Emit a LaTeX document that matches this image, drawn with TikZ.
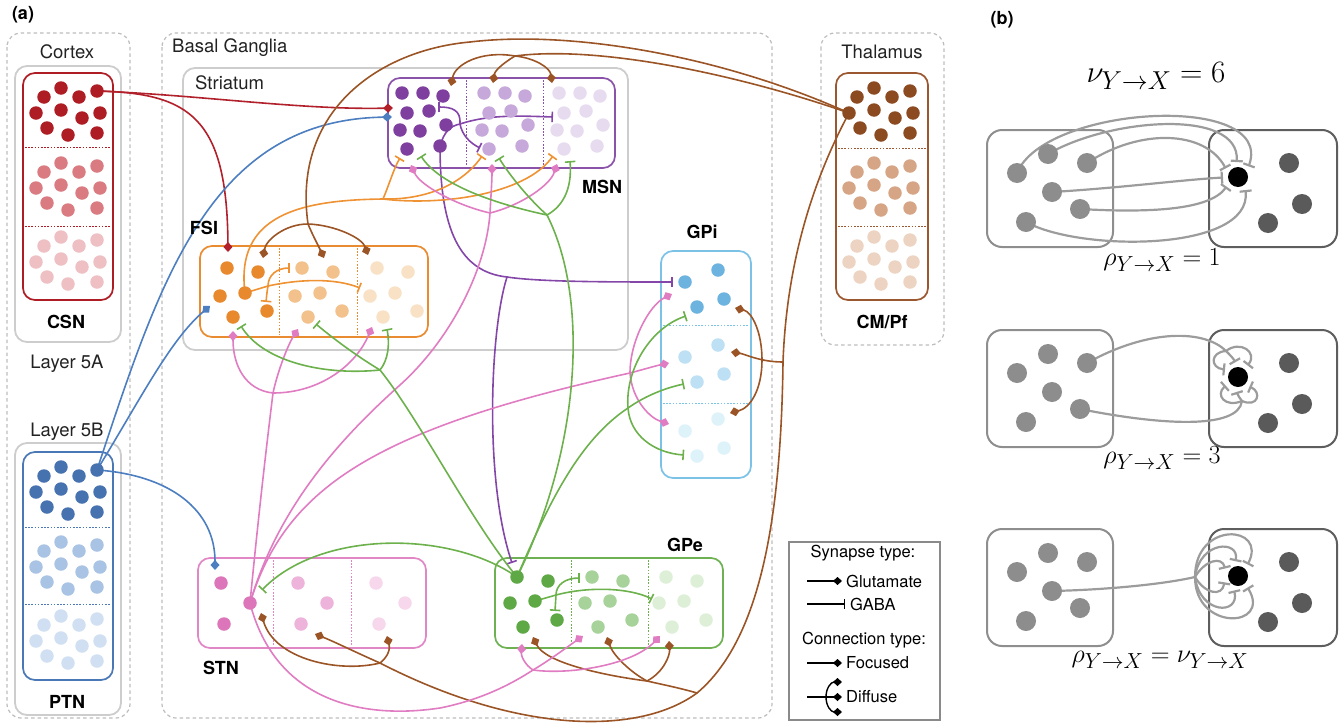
\documentclass[tikz,border=0pt]{standalone}
\usepackage{graphicx}
\usepackage{fontspec}
\setmainfont{TeX Gyre Heros}
\usetikzlibrary{arrows.meta}
\pgfdeclarelayer{bg}
\pgfdeclarelayer{wires}
\pgfsetlayers{bg,wires,main}
\definecolor{kCS1}{HTML}{AE1C24}\definecolor{kCS2}{HTML}{D97B80}\definecolor{kCS3}{HTML}{EEC0C3}
\definecolor{kPT1}{HTML}{4672B0}\definecolor{kPT2}{HTML}{A9C3E4}\definecolor{kPT3}{HTML}{D0DFF1}
\definecolor{kTH1}{HTML}{8B4A20}\definecolor{kTH2}{HTML}{D6A585}\definecolor{kTH3}{HTML}{EDD4C2}
\definecolor{kMS1}{HTML}{7F3F9F}\definecolor{kMS2}{HTML}{C6A9DA}\definecolor{kMS3}{HTML}{E7DBF0}
\definecolor{kFS1}{HTML}{E8892E}\definecolor{kFS2}{HTML}{F2C18C}\definecolor{kFS3}{HTML}{F8E1C5}
\definecolor{kGI1}{HTML}{6CB3DF}\definecolor{kGI2}{HTML}{BEE0F5}\definecolor{kGI3}{HTML}{DEF2F9}
\definecolor{kSN1}{HTML}{DD75BA}\definecolor{kSN2}{HTML}{EDB3DA}\definecolor{kSN3}{HTML}{F6D7EC}
\definecolor{kGE1}{HTML}{5EA845}\definecolor{kGE2}{HTML}{A7D29A}\definecolor{kGE3}{HTML}{DDEFD7}
\definecolor{bCS}{HTML}{AE1C24}\definecolor{bPT}{HTML}{4A77B5}\definecolor{bTH}{HTML}{9A5730}
\definecolor{bMS}{HTML}{8B52AA}\definecolor{bFS}{HTML}{E98B30}\definecolor{bGI}{HTML}{7CC2E6}
\definecolor{bSN}{HTML}{E187C6}\definecolor{bGE}{HTML}{6DB152}
\definecolor{kRed}{HTML}{B1202B}\definecolor{kBlu}{HTML}{4C7EC0}\definecolor{kPur}{HTML}{8446A8}
\definecolor{kOra}{HTML}{EE9233}\definecolor{kBro}{HTML}{9B5425}\definecolor{kPin}{HTML}{E07DC2}
\definecolor{kGre}{HTML}{6CB14C}
\definecolor{kGrp}{HTML}{CDCDCD}\definecolor{kDash}{HTML}{BDBDBD}\definecolor{kTxt}{HTML}{222222}
\definecolor{kLeg}{HTML}{8A8A8A}
\definecolor{kYB}{HTML}{8E8E8E}\definecolor{kXB}{HTML}{5E5E5E}\definecolor{kBL}{HTML}{8D8D8D}
\definecolor{kBR}{HTML}{5A5A5A}\definecolor{kBW}{HTML}{9C9C9C}
\begin{document}
\begin{tikzpicture}[x=1pt,y=-1pt,
  dot/.style={circle,draw=none,inner sep=0pt,minimum size=13.5pt},
  bdot/.style={circle,draw=none,inner sep=0pt,minimum size=20pt},
  regbox/.style={line width=1.7pt,rounded corners=12pt},
  grpbox/.style={line width=1.8pt,rounded corners=12pt,draw=kGrp},
  dashbox/.style={line width=1.2pt,rounded corners=14pt,draw=kDash,dash pattern=on 3.5pt off 3pt},
  divline/.style={line width=0.9pt,dash pattern=on 1.6pt off 1.6pt},
  wire/.style={line width=1.6pt,line cap=round},
  glu/.style={-{Diamond[length=10pt,width=9pt]}},
  gaba/.style={-{Bar[width=10.5pt,line width=1.6pt]}},
  lab/.style={font=\fontsize{18.5}{22}\selectfont,text=kTxt,inner sep=0pt},
  blab/.style={font=\fontsize{18}{22}\selectfont\bfseries,inner sep=0pt},
  leg/.style={font=\fontsize{16.5}{20}\selectfont,inner sep=0pt,anchor=west},
  bwire/.style={line width=2.2pt,draw=kBW,line cap=round},
  btee/.style={-{Bar[width=12pt,line width=2.2pt]}},
  ybox/.style={line width=2pt,draw=kYB,rounded corners=15pt},
  xbox/.style={line width=2pt,draw=kXB,rounded corners=15pt},
  legtip/.style={line width=1.4pt,black,-{Diamond[length=9pt,width=8pt]}},
  mth/.style={inner sep=0pt,font=\fontsize{24.88}{30}\selectfont},
  ]
\useasboundingbox (0,0) rectangle (1341,723);

% ---------------- dots ----------------
\foreach \pre/\dx/\dy/\c in {cs1/0/0/kCS1,cs2/0/75/kCS2,cs3/0/149/kCS3,pt1/0/379/kPT1,pt2/0/454/kPT2,pt3/0/528/kPT3,th1/813/0/kTH1,th2/813/75/kTH2,th3/813/149/kTH3}{
  \foreach \x/\y [count=\i] in {44/97,61/88,79/97,97/91,36/113,61/110,82/118,100/113,47/128,68/135,97/133}{
    \node[dot,fill=\c] (\pre-\i) at (\x+\dx,\y+\dy) {};
  }
}
\foreach \pre/\dx/\c in {ms1/0/kMS1,ms2/82/kMS2,ms3/157/kMS3}{
  \foreach \x/\y [count=\i] in {402/93,423/93,443/96,407/113,429/111,400/130,420/131,446/125,407/149,440/146}{
    \node[dot,fill=\c] (\pre-\i) at (\x+\dx,\y) {};
  }
}
\foreach \pre/\dx/\c in {fs1/0/kFS1,fs2/75/kFS2,fs3/150/kFS3}{
  \foreach \x/\y [count=\i] in {227/268,258/272,220/296,245/293,233/317,267/311}{
    \node[dot,fill=\c] (\pre-\i) at (\x+\dx,\y) {};
  }
}
\foreach \pre/\dy/\c in {gi1/0/kGI1,gi2/75/kGI2,gi3/149/kGI3}{
  \foreach \x/\y [count=\i] in {685/282,718/270,697/307,724/299}{
    \node[dot,fill=\c] (\pre-\i) at (\x,\y+\dy) {};
  }
}
\foreach \pre/\dx/\c in {sn1/0/kSN1,sn2/77/kSN2,sn3/155/kSN3}{
  \foreach \x/\y [count=\i] in {221/583,250/603,224/624}{
    \node[dot,fill=\c] (\pre-\i) at (\x+\dx,\y) {};
  }
}
\foreach \pre/\dx/\c in {ge1/0/kGE1,ge2/75/kGE2,ge3/149/kGE3}{
  \foreach \x/\y [count=\i] in {517/577,548/581,510/603,535/601,523/627,557/620}{
    \node[dot,fill=\c] (\pre-\i) at (\x+\dx,\y) {};
  }
}
% panel b dots
\foreach \k/\dy in {1/0,2/200,3/399}{
  \foreach \n/\x/\y in {a/1017/173,b/1048/154,c/1087/163,d/1052/192,e/1080/209,f/1026/222}{
    \node[bdot,fill=kBL] (bL\k\n) at (\x,\y+\dy) {};
  }
  \node[bdot,fill=black] (bN\k) at (1238,177+\dy) {};
  \foreach \n/\x/\y in {a/1289/163,b/1302/204,c/1268/223}{
    \node[bdot,fill=kBR] (bR\k\n) at (\x,\y+\dy) {};
  }
}

% ---------------- labels ----------------
\node[blab] (la) at (23,15) {(a)};
\node[blab] (lb) at (1002,20) {(b)};
\node[lab] (lCortex) at (67,52) {Cortex};
\node[blab] (lCSN) at (66,322) {CSN};
\node[lab] (l5A) at (67,364) {Layer 5A};
\node[lab] (l5B) at (67,432) {Layer 5B};
\node[blab] (lPTN) at (67,702) {PTN};
\node[lab,anchor=west] (lBG) at (172,48) {Basal Ganglia};
\node[lab,anchor=west] (lStr) at (195,83) {Striatum};
\node[blab] (lMSN) at (602,187) {MSN};
\node[blab] (lFSI) at (204,228) {FSI};
\node[blab] (lGPi) at (702,232) {GPi};
\node[blab] (lGPe) at (685,545) {GPe};
\node[blab] (lSTN) at (221,668) {STN};
\node[lab] (lThal) at (882,52) {Thalamus};
\node[blab] (lCM) at (882,322) {CM/Pf};

% legend
\node[leg,anchor=center] (lgSyn) at (863,553) {Synapse type:};
\coordinate (lgA0) at (807,581); \coordinate (lgA1) at (842,581);
\node[leg] (lgGlu) at (846,581) {Glutamate};
\coordinate (lgB0) at (807,604); \coordinate (lgB1) at (845,604);
\node[leg] (lgGaba) at (850,604) {GABA};
\node[leg,anchor=center] (lgCon) at (864,640) {Connection type:};
\coordinate (lgC0) at (807,663); \coordinate (lgC1) at (842,663);
\node[leg] (lgFoc) at (846,663) {Focused};
\coordinate (lgD0) at (807,697); \coordinate (lgD1) at (842,697);
\coordinate (lgDh) at (826,697); \coordinate (lgDt) at (842,682); \coordinate (lgDb) at (842,712);
\node[leg] (lgDif) at (846,697) {Diffuse};

% panel b math
\node[mth] (mNu) at (1156,76) {\scalebox{1.25}{$\nu_{Y\to X}=6$}};
\node[mth] (mR1) at (1162,260) {\scalebox{1.05}{$\rho_{Y\to X}=1$}};
\node[mth] (mR3) at (1162,458) {\scalebox{1.05}{$\rho_{Y\to X}=3$}};
\node[mth] (mRN) at (1160,660) {\scalebox{1.05}{$\rho_{Y\to X}=\nu_{Y\to X}$}};

% ---------------- boxes ----------------
\begin{pgfonlayer}{bg}
\draw[dashbox] (7,33) rectangle (130,718);
\draw[dashbox] (162,33) rectangle (772,718);
\draw[dashbox] (821,33) rectangle (944,345);
\draw[grpbox] (15,66) rectangle (121,342);
\draw[grpbox] (15,443) rectangle (121,715);
\draw[grpbox] (183,68) rectangle (628,350);
\draw[regbox,draw=bCS] (23,73) rectangle (113,300);
\draw[divline,draw=bCS] (25,147) -- (111,147); \draw[divline,draw=bCS] (25,226) -- (111,226);
\draw[regbox,draw=bPT] (23,452) rectangle (113,680);
\draw[divline,draw=bPT] (25,527) -- (111,527); \draw[divline,draw=bPT] (25,604) -- (111,604);
\draw[regbox,draw=bTH] (836,73) rectangle (928,300);
\draw[divline,draw=bTH] (838,148) -- (926,148); \draw[divline,draw=bTH] (838,226) -- (926,226);
\draw[regbox,draw=bMS] (388,78) rectangle (615,168);
\draw[divline,draw=bMS] (466,80) -- (466,166); \draw[divline,draw=bMS] (543,80) -- (543,166);
\draw[regbox,draw=bFS] (200,246) rectangle (428,337);
\draw[divline,draw=bFS] (279,248) -- (279,335); \draw[divline,draw=bFS] (357,248) -- (357,335);
\draw[regbox,draw=bGI] (661,251) rectangle (751,478);
\draw[divline,draw=bGI] (663,325) -- (749,325); \draw[divline,draw=bGI] (663,403) -- (749,403);
\draw[regbox,draw=bSN] (198,558) rectangle (426,648);
\draw[divline,draw=bSN] (273,560) -- (273,646); \draw[divline,draw=bSN] (351,560) -- (351,646);
\draw[regbox,draw=bGE] (495,558) rectangle (723,648);
\draw[divline,draw=bGE] (571,560) -- (571,646); \draw[divline,draw=bGE] (648,560) -- (648,646);
\draw[line width=1.2pt,draw=kLeg] (789,542) rectangle (940,720);
\foreach \dy in {0,200,399}{
  \draw[ybox] (987,130+\dy) rectangle (1113,247+\dy);
  \draw[xbox] (1209,130+\dy) rectangle (1337,247+\dy);
}
\end{pgfonlayer}

% ---------------- target coordinates ----------------
\coordinate (rMSN) at (393,108); \coordinate (rFSI) at (228,252);
\coordinate (bMSN) at (392,117); \coordinate (bFSI) at (210,306); \coordinate (bSTN) at (215,570);
\coordinate (pH1) at (460,124); \coordinate (pT1) at (438,107); \coordinate (pT2) at (480,148); \coordinate (pT3) at (553,117);
\coordinate (pH2) at (507,277); \coordinate (pGPi) at (673,282); \coordinate (pGPe) at (512,563);
\coordinate (oH1) at (383,199); \coordinate (oT1) at (400,158); \coordinate (oT2) at (482,156); \coordinate (oT3) at (553,156);
\coordinate (oH2) at (268,286); \coordinate (oT4) at (290,268); \coordinate (oT5) at (266,302); \coordinate (oT6) at (360,288);
\coordinate (brH1) at (308,224); \coordinate (brF1) at (263,258); \coordinate (brF2) at (324,258); \coordinate (brF3) at (368,255);
\coordinate (brH2) at (515,56); \coordinate (brM1) at (451,86); \coordinate (brM2) at (493,83); \coordinate (brM3) at (552,83);
\coordinate (brJ1) at (783,362); \coordinate (brA) at (762,360); \coordinate (brG1) at (731,352); \coordinate (brG2) at (735,308); \coordinate (brG3) at (730,413);
\coordinate (brJ2) at (697,693); \coordinate (brH3) at (647,681); \coordinate (brE1) at (533,637); \coordinate (brE2) at (607,637); \coordinate (brE3) at (669,641);
\coordinate (brH4) at (380,663); \coordinate (brS1) at (315,634); \coordinate (brS2) at (261,613); \coordinate (brS3) at (387,636);
\coordinate (pkH1) at (273,393); \coordinate (pkF1) at (233,331); \coordinate (pkF2) at (298,329); \coordinate (pkF3) at (372,327);
\coordinate (pkH2) at (490,213); \coordinate (pkM1) at (411,165); \coordinate (pkM2) at (492,164); \coordinate (pkM3) at (557,164);
\coordinate (pkH3) at (630,373); \coordinate (pkI1) at (672,294); \coordinate (pkI2) at (669,363); \coordinate (pkI3) at (669,424);
\coordinate (pkV) at (400,385); \coordinate (pkW) at (440,708);
\coordinate (pkH4) at (533,670); \coordinate (pkE1) at (583,636); \coordinate (pkE2) at (522,644); \coordinate (pkE3) at (660,636);
\coordinate (gS) at (262,590);
\coordinate (gH1) at (380,370); \coordinate (gF1) at (241,326); \coordinate (gF2) at (316,324); \coordinate (gF3) at (387,329);
\coordinate (gH2) at (547,215); \coordinate (gM1) at (421,156); \coordinate (gM2) at (499,158); \coordinate (gM3) at (570,161);
\coordinate (gH3) at (628,408); \coordinate (gI1) at (686,316); \coordinate (gI2) at (684,384); \coordinate (gI3) at (684,455);
\coordinate (gH4) at (556,595); \coordinate (gE1) at (652,599); \coordinate (gE2) at (580,578); \coordinate (gE3) at (555,611);
\coordinate (brK) at (470,42);
% panel b tee ends
\coordinate (t1a) at (1248.6,166.4); \coordinate (t1b) at (1236.7,162.1); \coordinate (t1c) at (1225.7,168.4);
\coordinate (t1d) at (1223,177.5); \coordinate (t1e) at (1226.5,186.6); \coordinate (t1f) at (1245.5,190);
\coordinate (h2a) at (1226,351); \coordinate (h2b) at (1242,401);
\coordinate (t2a) at (1225,369.5); \coordinate (t2b) at (1235.4,362.2); \coordinate (t2c) at (1247.6,365.5);
\coordinate (t2d) at (1225.7,385.6); \coordinate (t2e) at (1236.7,391.9); \coordinate (t2f) at (1249.5,386.6);
\coordinate (h3) at (1195,577);
\coordinate (t3a) at (1247.6,564.5); \coordinate (t3b) at (1235.4,561.2); \coordinate (t3c) at (1225,568.5);
\coordinate (t3d) at (1224.4,582.3); \coordinate (t3e) at (1234.1,590.5); \coordinate (t3f) at (1247.6,587.5);

% ---------------- wires ----------------
\begin{pgfonlayer}{wires}
% red
\draw[wire,kRed,glu] (cs1-4.center) .. controls (200,95) and (300,110) .. (rMSN);
\draw[wire,kRed,glu] (cs1-4.center) .. controls (190,93) and (227,118) .. (rFSI);
% blue
\draw[wire,kBlu,glu] (pt1-4.center) .. controls (160,280) and (210,120) .. (bMSN);
\draw[wire,kBlu,glu] (pt1-4.center) .. controls (140,400) and (170,340) .. (bFSI);
\draw[wire,kBlu,glu] (pt1-4.center) .. controls (170,475) and (215,510) .. (bSTN);
% purple
\draw[wire,kPur] (ms1-10.center) .. controls (444,132) and (450,126) .. (pH1);
\draw[wire,kPur,gaba] (pH1) .. controls (490,114) and (522,116) .. (pT3);
\draw[wire,kPur,gaba] (pH1) .. controls (461,110) and (452,107) .. (pT1);
\draw[wire,kPur,gaba] (pH1) .. controls (462,135) and (470,143) .. (pT2);
\draw[wire,kPur] (ms1-10.center) .. controls (440,230) and (460,272) .. (pH2);
\draw[wire,kPur,gaba] (pH2) .. controls (540,282) and (610,282) .. (pGPi);
\draw[wire,kPur,gaba] (pH2) .. controls (490,330) and (484,480) .. (pGPe);
% orange
\draw[wire,kOra] (fs1-4.center) .. controls (235,215) and (300,200) .. (oH1);
\draw[wire,kOra,gaba] (oH1) .. controls (389,185) and (394,168) .. (oT1);
\draw[wire,kOra,gaba] (oH1) .. controls (425,200) and (462,185) .. (oT2);
\draw[wire,kOra,gaba] (oH1) .. controls (440,206) and (525,195) .. (oT3);
\draw[wire,kOra] (fs1-4.center) -- (oH2);
\draw[wire,kOra,gaba] (oH2) .. controls (300,279) and (335,278) .. (oT6);
\draw[wire,kOra,gaba] (oH2) .. controls (268,275) and (277,268) .. (oT4);
\draw[wire,kOra,gaba] (oH2) .. controls (267,292) .. (oT5);
% brown
\draw[wire,kBro] (th1-5.center) .. controls (720,55) and (570,30) .. (brK) .. controls (380,50) and (292,110) .. (brH1);
\draw[wire,kBro,glu] (brH1) .. controls (285,224) and (266,240) .. (brF1);
\draw[wire,kBro,glu] (brH1) .. controls (313,236) and (319,247) .. (brF2);
\draw[wire,kBro,glu] (brH1) .. controls (335,225) and (362,238) .. (brF3);
\draw[wire,kBro] (th1-5.center) .. controls (740,75) and (600,45) .. (brH2);
\draw[wire,kBro,glu] (brH2) .. controls (480,50) and (455,65) .. (brM1);
\draw[wire,kBro,glu] (brH2) .. controls (505,62) and (495,70) .. (brM2);
\draw[wire,kBro,glu] (brH2) .. controls (535,58) and (550,68) .. (brM3);
\draw[wire,kBro] (th1-5.center) .. controls (805,195) and (786,280) .. (brJ1) .. controls (781,520) and (760,640) .. (brJ2) .. controls (640,735) and (520,735) .. (brH4);
\draw[wire,kBro,glu] (brJ1) .. controls (760,362) and (745,354) .. (brG1);
\draw[wire,kBro,glu] (brA) .. controls (762,332) and (752,312) .. (brG2);
\draw[wire,kBro,glu] (brA) .. controls (762,390) and (750,408) .. (brG3);
\draw[wire,kBro] (brJ2) .. controls (680,688) and (660,684) .. (brH3);
\draw[wire,kBro,glu] (brH3) .. controls (600,675) and (545,662) .. (brE1);
\draw[wire,kBro,glu] (brH3) .. controls (630,672) and (613,655) .. (brE2);
\draw[wire,kBro,glu] (brH3) .. controls (664,672) and (670,655) .. (brE3);
\draw[wire,kBro,glu] (brH4) .. controls (355,652) and (335,642) .. (brS1);
\draw[wire,kBro,glu] (brH4) .. controls (340,673) and (275,660) .. (brS2);
\draw[wire,kBro,glu] (brH4) .. controls (389,656) and (390,648) .. (brS3);
% pink
\draw[wire,kPin] (sn1-2.center) .. controls (258,520) and (266,450) .. (pkH1);
\draw[wire,kPin,glu] (pkH1) .. controls (245,390) and (233,365) .. (pkF1);
\draw[wire,kPin,glu] (pkH1) .. controls (278,370) and (288,345) .. (pkF2);
\draw[wire,kPin,glu] (pkH1) .. controls (320,393) and (356,365) .. (pkF3);
\draw[wire,kPin] (sn1-2.center) .. controls (280,500) and (350,430) .. (pkV) .. controls (450,340) and (486,270) .. (pkH2);
\draw[wire,kPin,glu] (pkH2) .. controls (455,205) and (420,185) .. (pkM1);
\draw[wire,kPin,glu] (pkH2) .. controls (491,195) and (492,180) .. (pkM2);
\draw[wire,kPin,glu] (pkH2) .. controls (522,205) and (550,185) .. (pkM3);
\draw[wire,kPin] (sn1-2.center) .. controls (285,490) and (370,430) .. (pkH3);
\draw[wire,kPin,glu] (pkH3) .. controls (645,369) and (655,366) .. (pkI2);
\draw[wire,kPin,glu] (pkH3) .. controls (630,340) and (650,305) .. (pkI1);
\draw[wire,kPin,glu] (pkH3) .. controls (632,400) and (650,418) .. (pkI3);
\draw[wire,kPin] (sn1-2.center) .. controls (275,700) and (360,720) .. (pkW) .. controls (480,700) and (510,685) .. (pkH4);
\draw[wire,kPin,glu] (pkH4) .. controls (550,660) and (570,645) .. (pkE1);
\draw[wire,kPin,glu] (pkH4) .. controls (525,665) and (521,656) .. (pkE2);
\draw[wire,kPin,glu] (pkH4) .. controls (570,675) and (632,665) .. (pkE3);
% green
\draw[wire,kGre,gaba] (ge1-1.center) .. controls (450,530) and (320,530) .. (gS);
\draw[wire,kGre] (ge1-1.center) .. controls (470,520) and (420,420) .. (gH1);
\draw[wire,kGre,gaba] (gH1) .. controls (320,376) and (262,360) .. (gF1);
\draw[wire,kGre,gaba] (gH1) .. controls (355,355) and (330,336) .. (gF2);
\draw[wire,kGre,gaba] (gH1) .. controls (388,360) and (390,345) .. (gF3);
\draw[wire,kGre] (ge1-1.center) .. controls (580,450) and (590,300) .. (gH2);
\draw[wire,kGre,gaba] (gH2) .. controls (500,205) and (440,186) .. (gM1);
\draw[wire,kGre,gaba] (gH2) .. controls (530,200) and (510,176) .. (gM2);
\draw[wire,kGre,gaba] (gH2) .. controls (565,205) and (572,186) .. (gM3);
\draw[wire,kGre] (ge1-1.center) .. controls (550,500) and (580,440) .. (gH3);
\draw[wire,kGre,gaba] (gH3) .. controls (625,370) and (650,328) .. (gI1);
\draw[wire,kGre,gaba] (gH3) .. controls (645,396) and (665,388) .. (gI2);
\draw[wire,kGre,gaba] (gH3) .. controls (630,436) and (655,453) .. (gI3);
\draw[wire,kGre] (ge1-4.center) -- (gH4);
\draw[wire,kGre,gaba] (gH4) .. controls (590,586) and (630,588) .. (gE1);
\draw[wire,kGre,gaba] (gH4) .. controls (556,585) and (565,578) .. (gE2);
\draw[wire,kGre,gaba] (gH4) -- (gE3);
% legend symbols
\draw[legtip] (lgA0) -- (lgA1);
\draw[line width=1.4pt,black,-{Bar[width=10pt,line width=1.4pt]}] (lgB0) -- (lgB1);
\draw[legtip] (lgC0) -- (lgC1);
\draw[legtip] (lgD0) -- (lgD1);
\draw[legtip] (lgDh) .. controls (826,688) and (831,682) .. (lgDt);
\draw[legtip] (lgDh) .. controls (826,706) and (831,712) .. (lgDb);
% panel b, rho = 1
\draw[bwire,btee] (bL1a.center) .. controls (1045,105) and (1275,92) .. (t1a);
\draw[bwire,btee] (bL1b.center) .. controls (1110,118) and (1240,108) .. (t1b);
\draw[bwire,btee] (bL1c.center) .. controls (1140,128) and (1205,130) .. (t1c);
\draw[bwire,btee] (bL1d.center) .. controls (1120,188) and (1180,180) .. (t1d);
\draw[bwire,btee] (bL1e.center) .. controls (1150,213) and (1210,210) .. (t1e);
\draw[bwire,btee] (bL1f.center) .. controls (1080,252) and (1252,252) .. (t1f);
% rho = 3
\draw[bwire] (bL2c.center) .. controls (1150,328) and (1205,330) .. (h2a);
\draw[bwire,btee] (h2a) .. controls (1210,352) and (1210,368) .. (t2a);
\draw[bwire,btee] (h2a) .. controls (1230,355) and (1233,358) .. (t2b);
\draw[bwire,btee] (h2a) .. controls (1240,340) and (1258,352) .. (t2c);
\draw[bwire] (bL2e.center) .. controls (1160,425) and (1238,430) .. (h2b);
\draw[bwire,btee] (h2b) .. controls (1225,408) and (1215,395) .. (t2d);
\draw[bwire,btee] (h2b) .. controls (1240,398) and (1238,396) .. (t2e);
\draw[bwire,btee] (h2b) .. controls (1258,408) and (1262,392) .. (t2f);
% rho = nu
\draw[bwire] (bL3d.center) .. controls (1100,590) and (1160,585) .. (h3);
\draw[bwire,btee] (h3) .. controls (1195,520) and (1268,525) .. (t3a);
\draw[bwire,btee] (h3) .. controls (1200,540) and (1240,540) .. (t3b);
\draw[bwire,btee] (h3) .. controls (1205,560) and (1222,556) .. (t3c);
\draw[bwire,btee] (h3) .. controls (1205,594) and (1222,597) .. (t3d);
\draw[bwire,btee] (h3) .. controls (1200,615) and (1240,615) .. (t3e);
\draw[bwire,btee] (h3) .. controls (1195,632) and (1272,628) .. (t3f);
\end{pgfonlayer}
\end{tikzpicture}
\end{document}
